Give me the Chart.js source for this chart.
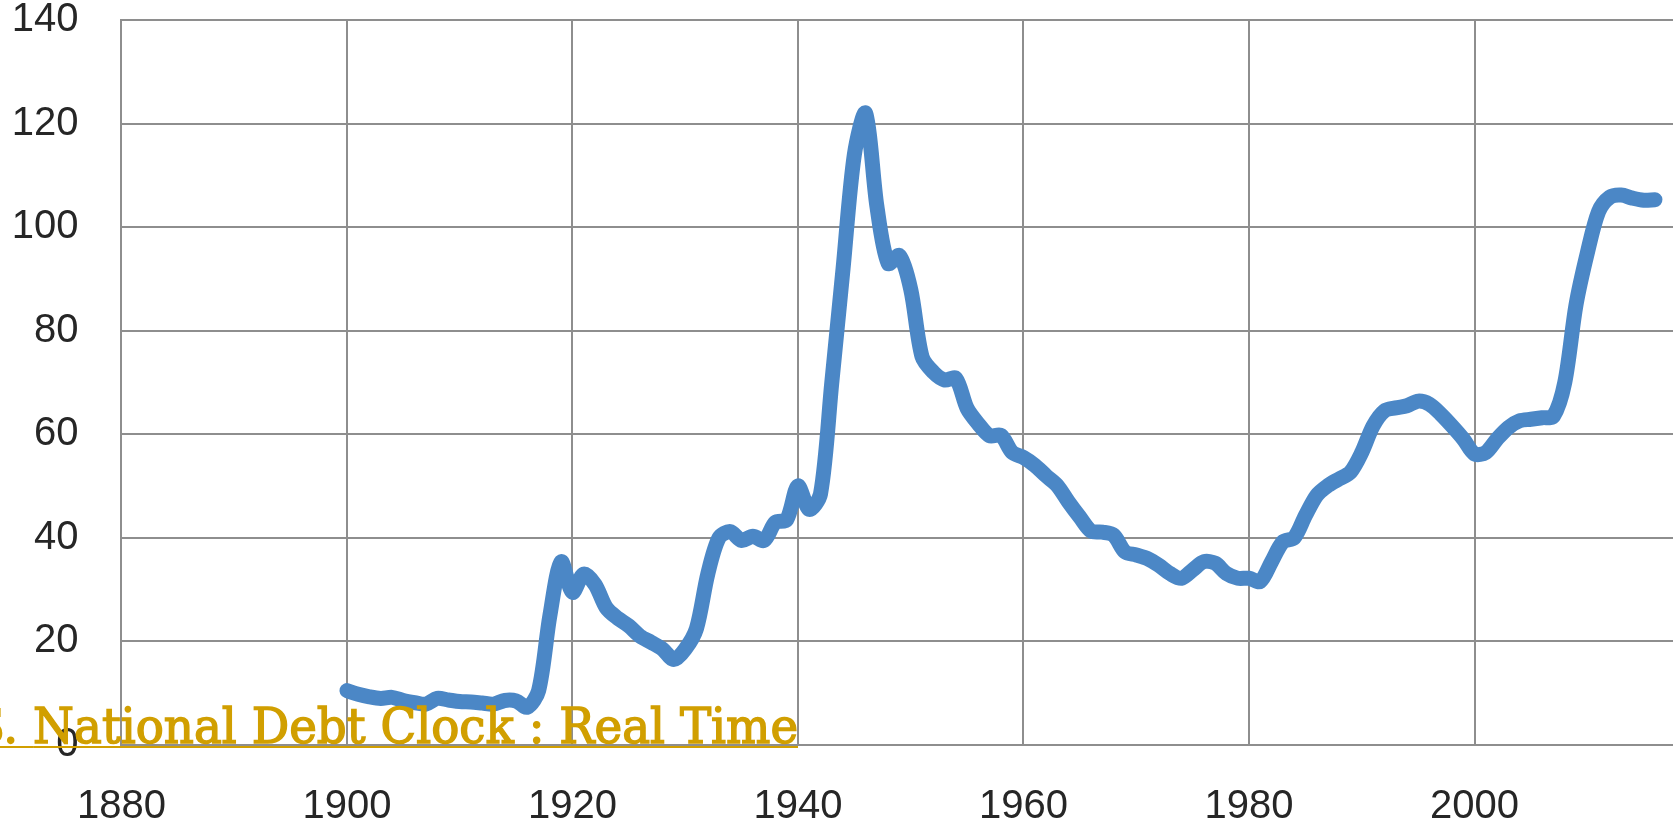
<!DOCTYPE html>
<html>
<head>
<meta charset="utf-8">
<script src="https://cdn.jsdelivr.net/npm/chart.js@4.4.1/dist/chart.umd.min.js"></script>
<style>
  html, body { margin: 0; padding: 0; background: #ffffff; overflow: hidden; }
  #wrap { position: relative; width: 1673px; height: 830px; }
  #chart { position: absolute; left: 0; top: 0; }
  #link {
    position: absolute; left: 0; top: 0; white-space: nowrap;
    font-family: "DejaVu Serif", serif; font-size: 49px; line-height: 49px;
    color: #D19F00; -webkit-text-stroke: 1.5px #D19F00;
    text-decoration: underline; text-decoration-thickness: 2px;
    text-underline-offset: 3px; transform-origin: 0 0;
  }
</style>
</head>
<body>
<div id="wrap">
  <canvas id="chart" width="1673" height="830"></canvas>
  <a id="link"><span id="pre">U.S. </span><span id="main">National Debt Clock : Real Time</span></a>
</div>
<script>
// ---- data ----
const years = [
  1900,1901,1902,1903,1904,1905,1906,1907,1908,1909,
  1910,1911,1912,1913,1914,1915,1916,1917,1918,1919,
  1920,1921,1922,1923,1924,1925,1926,1927,1928,1929,
  1930,1931,1932,1933,1934,1935,1936,1937,1938,1939,
  1940,1941,1942,1943,1944,1945,1946,1947,1948,1949,
  1950,1951,1952,1953,1954,1955,1956,1957,1958,1959,
  1960,1961,1962,1963,1964,1965,1966,1967,1968,1969,
  1970,1971,1972,1973,1974,1975,1976,1977,1978,1979,
  1980,1981,1982,1983,1984,1985,1986,1987,1988,1989,
  1990,1991,1992,1993,1994,1995,1996,1997,1998,1999,
  2000,2001,2002,2003,2004,2005,2006,2007,2008,2009,
  2010,2011,2012,2013,2014,2015,2016
];
const debtPctGdp = [
  10.5,9.8,9.3,9.0,9.2,8.6,8.2,7.9,9.0,8.7,
  8.4,8.3,8.1,7.9,8.6,8.5,7.3,10.5,25.0,35.4,
  29.5,33.0,31.0,26.5,24.5,23.0,21.0,19.8,18.5,16.5,
  18.5,22.5,33.0,40.0,41.2,39.5,40.3,39.5,43.0,43.5,
  50.0,45.5,48.5,70.0,92.0,114.0,122.0,104.0,93.0,94.5,
  88.0,75.0,72.0,70.5,70.8,65.0,62.0,59.7,59.8,56.5,
  55.5,54.0,52.0,50.1,46.9,44.0,41.3,41.1,40.5,37.3,
  36.7,36.0,34.7,33.1,32.2,33.8,35.4,35.1,33.1,32.2,
  32.2,31.6,35.4,39.2,40.0,44.3,48.2,50.1,51.4,52.7,
  56.5,61.6,64.5,65.1,65.5,66.4,65.8,63.9,61.6,59.1,
  56.2,56.5,59.1,61.3,62.6,62.9,63.2,63.5,70.0,85.0,
  95.0,103.0,105.8,106.2,105.6,105.2,105.3
];
const xTicks = [1880,1900,1920,1940,1960,1980,2000];
const yTicks = [0,20,40,60,80,100,120,140];

const points = years.map((y, i) => ({ x: y, y: debtPctGdp[i] }));

const gridColor = '#8e8e8e';
const labelFont = { family: '"Liberation Sans", Arial, sans-serif', size: 40, lineHeight: 1.0 };

new Chart(document.getElementById('chart'), {
  type: 'line',
  data: {
    datasets: [{
      data: points,
      borderColor: '#4b87c6',
      borderWidth: 15,
      borderCapStyle: 'round',
      borderJoinStyle: 'round',
      pointRadius: 0,
      tension: 0.3,
      fill: false
    }]
  },
  options: {
    responsive: false,
    animation: false,
    layout: { padding: { top: 20, right: 0, left: 0, bottom: 0 } },
    plugins: { legend: { display: false }, tooltip: { enabled: false } },
    scales: {
      x: {
        type: 'linear',
        min: 1880,
        max: 2017.6,
        afterBuildTicks: (s) => { s.ticks = xTicks.map(v => ({ value: v })); },
        afterFit: (s) => { s.height = 85; s.paddingLeft = 0; s.paddingRight = 0; s.paddingTop = 0; s.paddingBottom = 0; },
        grid: { color: gridColor, lineWidth: 2, drawTicks: false },
        border: { color: gridColor, width: 2 },
        ticks: { font: labelFont, color: '#262626', padding: 42, maxRotation: 0, autoSkip: false,
                 callback: (v) => String(v) }
      },
      y: {
        min: 0,
        max: 140,
        afterBuildTicks: (s) => { s.ticks = yTicks.map(v => ({ value: v })); },
        afterFit: (s) => { s.width = 121.4; s.paddingTop = 0; s.paddingBottom = 0; s.paddingLeft = 0; s.paddingRight = 0; },
        grid: { color: gridColor, lineWidth: 2, drawTicks: false },
        border: { color: gridColor, width: 2 },
        ticks: { font: labelFont, color: '#262626', padding: 43, callback: (v) => String(v) }
      }
    }
  }
});

// position the overlaid link text (layout only)
(function () {
  const link = document.getElementById('link');
  const pre = document.getElementById('pre');
  const main = document.getElementById('main');
  const preW = pre.getBoundingClientRect().width;
  const mainW = main.getBoundingClientRect().width;
  const s = 765 / mainW;
  link.style.transform = 'scaleX(' + s + ')';
  link.style.left = (33 - preW * s) + 'px';
  link.style.top = (743 - 41.5) + 'px';
})();
</script>
</body>
</html>
